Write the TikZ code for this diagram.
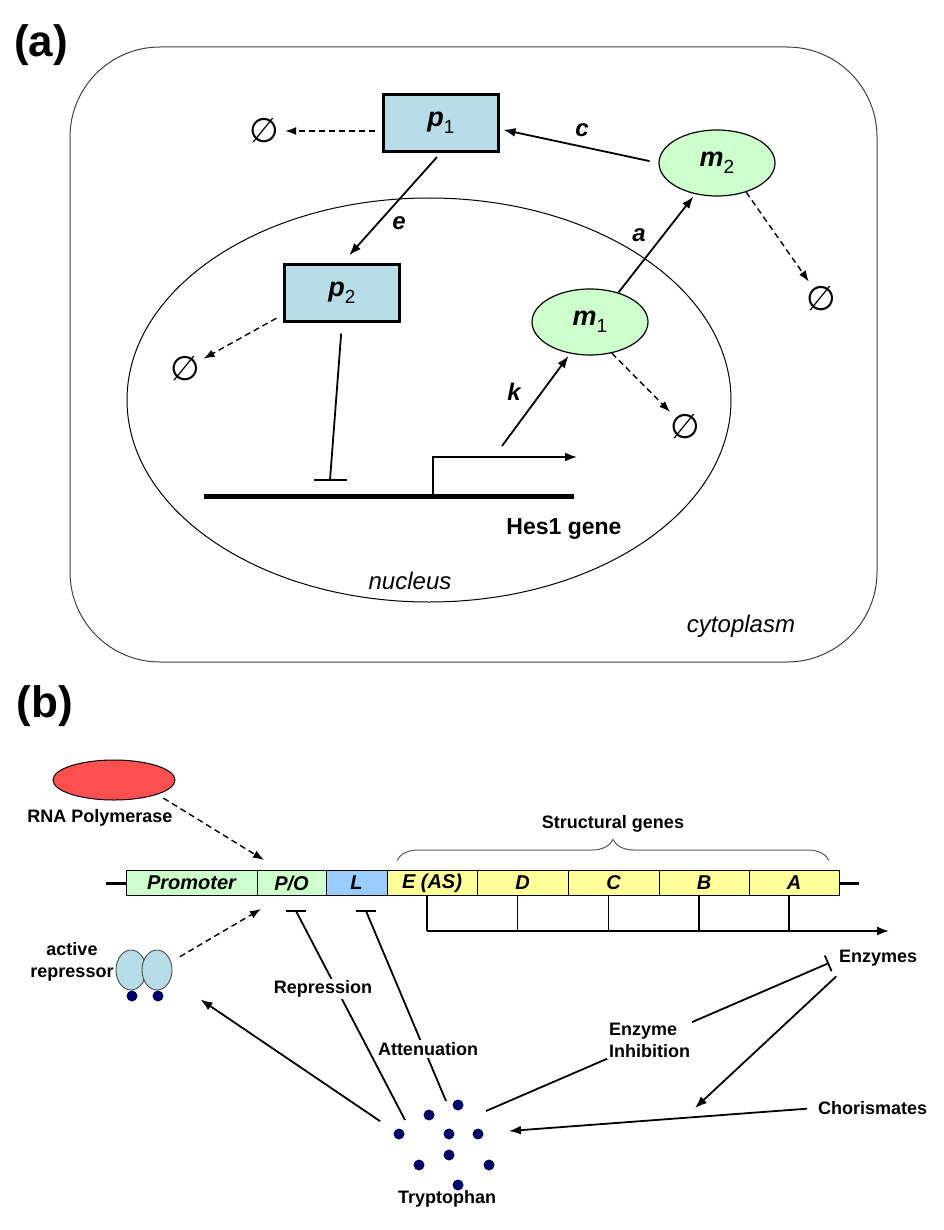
\documentclass[tikz,border=0pt]{standalone}
\usepackage{fontspec}
\setmainfont{Liberation Sans}
\newfontfamily\zerofont{DejaVu Sans}
\usetikzlibrary{arrows.meta,positioning}
\usetikzlibrary{shapes.geometric}
\usetikzlibrary{decorations.pathreplacing}

\definecolor{proteinblue}{HTML}{B7DEE8}
\definecolor{mrnagreen}{HTML}{CCFFCC}
\definecolor{leaderblue}{HTML}{99CCFF}
\definecolor{genesyellow}{HTML}{FFFF99}
\definecolor{polred}{HTML}{FF5050}
\definecolor{trpnavy}{HTML}{000066}

% letter with a lowered index
\newcommand{\species}[2]{\textbf{\textit{#1}}\raisebox{-7pt}{\fontsize{19}{20}\selectfont #2}}

\tikzset{
  % protein box
  protein/.style = {
    draw = black,
    line width = 2.2pt,
    fill = proteinblue,
    minimum width = 115pt,
    minimum height = 57pt,
    inner sep = 0,
    font = \fontsize{27}{29}\selectfont
  },
  % mRNA ellipse
  mrna/.style = {
    draw = black,
    ellipse,
    line width = 1.2pt,
    fill = mrnagreen,
    minimum width = 116pt,
    minimum height = 66pt,
    inner sep = 0,
    font = \fontsize{27}{29}\selectfont
  },
  % degradation
  sink/.style = {
    circle,
    minimum size = 42pt,
    inner sep = 0,
    font = \zerofont\fontsize{34}{34}\selectfont
  },
  % reactions
  react/.style = {
    line width = 1.8pt,
    -{Latex[length=12pt,width=9pt]}
  },
  decay/.style = {
    line width = 1.4pt,
    dash pattern = on 6pt off 4pt,
    -{Latex[length=11pt,width=8pt]}
  },
  inhib/.style = {
    line width = 1.8pt
  },
  rate/.style = {
    font = \fontsize{24}{26}\selectfont\bfseries\itshape
  },
  panel/.style = {
    font = \fontsize{44}{46}\selectfont\bfseries
  },
  % segments of the operon
  gene/.style = {
    draw = black,
    line width = 0.8pt,
    minimum height = 25pt,
    inner sep = 0,
    outer sep = 0,
    font = \fontsize{20}{22}\selectfont\bfseries\itshape
  },
  btext/.style = {
    font = \fontsize{18}{22}\selectfont\bfseries,
    inner sep = 2pt
  },
  mask/.style = {
    fill = white
  },
  trpdot/.style = {
    circle,
    fill = trpnavy,
    minimum size = 11pt,
    inner sep = 0
  },
  repressor/.style = {
    ellipse,
    draw = black!70,
    line width = 0.9pt,
    fill = proteinblue,
    minimum width = 30pt,
    minimum height = 40pt,
    inner sep = 0
  }
}

\begin{document}
\begin{tikzpicture}[x=1pt,y=-1pt]
    \useasboundingbox (0,0) rectangle (943,1230);

    % (a) Hes1
    \node[panel] (panela) at (41,45) {(a)};
    \node[draw=black!75, line width=1pt, rounded corners=90pt,
      minimum width=807pt, minimum height=615pt] (cell) at (473.5,354.5) {};
    \node[draw=black, ellipse, line width=1pt,
      minimum width=604pt, minimum height=404pt] (nucleus) at (429,400) {};

    \node[protein] (p1) at (441,123) {\species{p}{1}};
    \node[protein] (p2) at (342,293) {\species{p}{2}};
    \node[mrna] (m2) at (717,163) {\species{m}{2}};
    \node[mrna] (m1) at (590,322) {\species{m}{1}};

    \node[sink] (p1sink) at (264,131) {∅};
    \node[sink] (p2sink) at (185,369) {∅};
    \node[sink] (m1sink) at (685,427) {∅};
    \node[sink] (m2sink) at (821,299) {∅};

    \coordinate (geneL) at (204,496);
    \coordinate (geneR) at (574,496);
    \coordinate (tss) at (433,496);
    \coordinate (tssEnd) at (577,457);
    \coordinate (p2bar) at (330,480);
    \coordinate (kfoot) at (502,446);

    % reactions
    \draw[react, shorten <=9pt, shorten >=4pt] (m2.west) -- ([yshift=-6pt]p1.east);
    \draw[react, shorten <=6pt, shorten >=11pt] (p1.south) -- (p2.north);
    \draw[react, shorten >=3pt] (m1.46) -- (m2.235);
    \draw[react, shorten >=3pt] (kfoot) -- (m1.238);

    % decay
    \draw[decay, shorten <=7pt] (p1.west |- p1sink) -- (p1sink);
    \draw[decay, shorten <=8pt] (p2.200) -- (p2sink);
    \draw[decay] (m1.305) -- (m1sink);
    \draw[decay] (m2.315) -- (m2sink);

    % gene
    \draw[line width=5pt] (geneL) -- (geneR);
    \draw[react] (tss) |- (tssEnd);
    \draw[inhib, shorten <=11pt] (p2.south) -- (p2bar);
    \draw[inhib] ([xshift=-16pt]p2bar) -- ([xshift=17pt]p2bar);

    \node[rate] (labc) at (582,130) {c};
    \node[rate] (labe) at (399,223) {e};
    \node[rate] (laba) at (639,235) {a};
    \node[rate] (labk) at (514,392) {k};
    \node[font=\fontsize{23}{25}\selectfont\bfseries] (hes) at (564,529) {Hes1 gene};
    \node[font=\fontsize{24}{26}\selectfont\itshape] (nuctext) at (410,581) {nucleus};
    \node[font=\fontsize{24}{26}\selectfont\itshape] (cyttext) at (741,626) {cytoplasm};

    % (b) trp operon
    \node[panel] (panelb) at (45,706) {(b)};

    \node[ellipse, draw=black, line width=1pt, fill=polred,
      minimum width=122pt, minimum height=40pt] (rnap) at (114,780) {};
    \node[btext] (rnapname) at (100,818) {RNA Polymerase};

    \node[gene, fill=mrnagreen, minimum width=131pt, anchor=west] (prom) at (126,883) {Promoter};
    \node[gene, fill=mrnagreen, minimum width=69pt, right=0pt of prom] (po) {P/O};
    \node[gene, fill=leaderblue, minimum width=61pt, right=0pt of po] (lead) {L};
    \node[gene, fill=genesyellow, minimum width=90pt, right=0pt of lead] (geneE) {E (AS)};
    \node[gene, fill=genesyellow, minimum width=91pt, right=0pt of geneE] (geneD) {D};
    \node[gene, fill=genesyellow, minimum width=91pt, right=0pt of geneD] (geneC) {C};
    \node[gene, fill=genesyellow, minimum width=90pt, right=0pt of geneC] (geneB) {B};
    \node[gene, fill=genesyellow, minimum width=90pt, right=0pt of geneB] (geneA) {A};

    \coordinate (dnaL) at (106,883);
    \coordinate (dnaR) at (859,883);
    \draw[line width=3pt] (dnaL) -- (prom.west);
    \draw[line width=3pt] (geneA.east) -- (dnaR);

    \draw[decorate, decoration={brace, amplitude=21pt}, draw=black!65, line width=1pt]
      ([xshift=10pt,yshift=10pt]geneE.north west) -- ([xshift=-10pt,yshift=10pt]geneA.north east);
    \node[btext] (structname) at (613,824) {Structural genes};

    % transcript
    \coordinate (txStart) at (427,931);
    \coordinate (txEnd) at (889,931);
    \foreach \g in {geneE,geneD,geneC,geneB,geneA}
      \draw[line width=1.5pt] ([xshift=-5pt]\g.south) -- ([xshift=-5pt]\g.south |- txStart);
    \draw[react] (txStart) -- (txEnd);

    % repressor
    \node[repressor] (rep1) at (131,970) {};
    \node[repressor] (rep2) at (157,970) {};
    \node[trpdot] (rep1dot) at (132,996) {};
    \node[trpdot] (rep2dot) at (158,996) {};
    \node[btext, align=center] (repname) at (72,962) {active\\repressor};

    % tryptophan
    \foreach \i/\x/\y in {1/399/1134, 2/429/1115, 3/458/1105, 4/449/1134, 5/478/1134,
      6/449/1155, 7/419/1165, 8/489/1165, 9/458/1185}
      \node[trpdot] (trp\i) at (\x,\y) {};
    \node[btext] (trpname) at (447,1199) {Tryptophan};

    \node[btext, anchor=west] (enz) at (837,958) {Enzymes};
    \node[btext, anchor=west] (chor) at (816,1108) {Chorismates};

    \coordinate (rnapHit) at (264,860);
    \coordinate (repHit) at (261,909);
    \coordinate (poBar) at (296,911);
    \coordinate (lBar) at (366,911);
    \coordinate (repFoot) at (405,1120);
    \coordinate (attFoot) at (446,1101);
    \coordinate (inhFoot) at (486,1111);
    \coordinate (chorFoot) at (509,1131);
    \coordinate (catalysis) at (695,1108);

    % regulation
    \draw[decay, shorten <=7pt] (rnap.south east) -- (rnapHit);
    \draw[decay, shorten <=10pt] (rep2.30) -- (repHit);
    \draw[react, shorten <=17pt, shorten >=36pt] (trp1) -- (rep2);
    \draw[inhib] (repFoot) -- (poBar);
    \draw[inhib] ([xshift=-10pt]poBar) -- ([xshift=10pt]poBar);
    \draw[inhib] (attFoot) -- (lBar);
    \draw[inhib] ([xshift=-10pt]lBar) -- ([xshift=10pt]lBar);
    \draw[inhib, -{Bar[width=17pt]}] (inhFoot) -- ([xshift=-8pt,yshift=-5pt]enz.west);
    \draw[react, shorten <=12pt] ([xshift=8pt]enz.south west) -- (catalysis);
    \draw[react, shorten <=9pt] (chor.west) -- (chorFoot);

    \node[btext, mask] (repress) at (323,989) {Repression};
    \node[btext, mask] (atten) at (428,1049) {Attenuation};
    \node[btext, mask, align=left, anchor=west] (inhibit) at (607,1040) {Enzyme\\Inhibition};
\end{tikzpicture}
\end{document}
